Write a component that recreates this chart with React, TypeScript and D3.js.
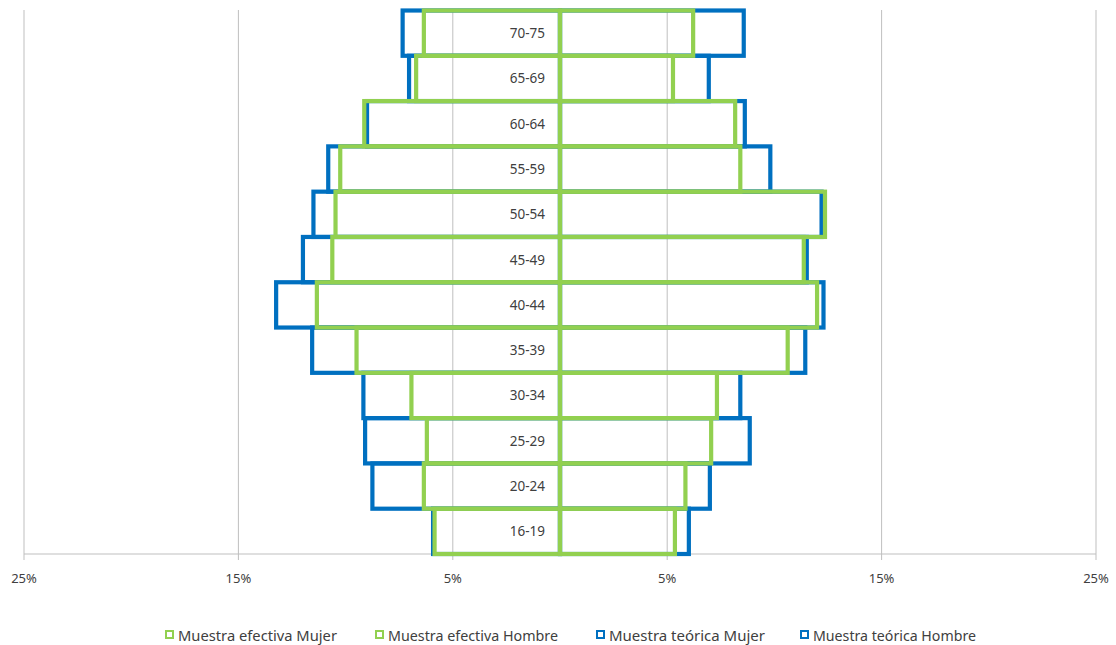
import React from 'react';
import * as d3 from 'd3';

const categories = ['16-19', '20-24', '25-29', '30-34', '35-39', '40-44', '45-49', '50-54', '55-59', '60-64', '65-69', '70-75'];
// percentages (Mujer plotted to the left)
const efectivaMujer = [5.85, 6.35, 6.21, 6.93, 9.49, 11.34, 10.62, 10.47, 10.25, 9.13, 6.71, 6.35];
const efectivaHombre = [5.36, 5.85, 7.05, 7.32, 10.62, 11.99, 11.37, 12.36, 8.41, 8.17, 5.27, 6.21];
const teoricaMujer = [5.92, 8.75, 9.09, 9.17, 11.56, 13.24, 11.99, 11.5, 10.81, 9.0, 7.04, 7.34];
const teoricaHombre = [6.01, 6.99, 8.85, 8.41, 11.44, 12.29, 11.51, 12.2, 9.81, 8.62, 6.94, 8.57];
const tickValues = [-25, -15, -5, 5, 15, 25];
const legendLabels = ['Muestra efectiva Mujer', 'Muestra efectiva Hombre', 'Muestra teórica Mujer', 'Muestra teórica Hombre'];

const GREEN = '#92D050';
const BLUE = '#0070C0';
const FONT = '"Noto Sans", "Open Sans", sans-serif';

export default function App() {
  const W = 1116, H = 645;
  const x = d3.scaleLinear().domain([-25, 25]).range([24, 1096]);
  const y = d3.scaleBand<string>().domain([...categories].reverse()).range([10.5, 554]).padding(0);
  const bw = y.bandwidth();

  const bars = (vals: number[], sign: number, color: string, key: string) =>
    vals.map((v, i) => {
      const x0 = x(0), x1 = x(sign * v);
      return (
        <rect key={key + i} x={Math.min(x0, x1)} y={y(categories[i])!} width={Math.abs(x1 - x0)} height={bw}
          fill="none" stroke={color} strokeWidth={4.2} />
      );
    });

  const legendX = [165, 375, 596, 800];
  const legendW = [159, 170, 156, 163];
  const legendColors = [GREEN, GREEN, BLUE, BLUE];

  return (
    <svg width={W} height={H} style={{ position: 'absolute', left: 0, top: 0, background: '#fff' }}>
      <rect x={0} y={0} width={W} height={H} fill="#fff" />
      {/* gridlines */}
      {tickValues.map(t => (
        <line key={'g' + t} x1={x(t)} x2={x(t)} y1={10} y2={560} stroke="#BFBFBF" strokeWidth={1} />
      ))}
      <line x1={x(-25)} x2={x(25)} y1={554} y2={554} stroke="#BFBFBF" strokeWidth={1} />
      {/* bars: teórica behind, efectiva on top */}
      {bars(teoricaMujer, -1, BLUE, 'tm')}
      {bars(teoricaHombre, 1, BLUE, 'th')}
      {bars(efectivaMujer, -1, GREEN, 'em')}
      {bars(efectivaHombre, 1, GREEN, 'eh')}
      {/* category labels */}
      {categories.map(c => (
        <text key={'c' + c} x={545} y={y(c)! + bw / 2} textAnchor="end" dominantBaseline="central"
          fontFamily={FONT} fontSize={13.5} fill="#404040">{c}</text>
      ))}
      {/* tick labels */}
      {tickValues.map(t => (
        <text key={'t' + t} x={x(t)} y={578} textAnchor="middle" dominantBaseline="central"
          fontFamily={FONT} fontSize={13} fill="#404040">{Math.abs(t) + '%'}</text>
      ))}
      {/* legend */}
      {legendLabels.map((l, i) => (
        <g key={'l' + i}>
          <rect x={legendX[i] + 1} y={631} width={7} height={7} fill="#fff" stroke={legendColors[i]} strokeWidth={2} />
          <text x={legendX[i] + 13} y={635} dominantBaseline="central" fontFamily={FONT} fontSize={14}
            textLength={legendW[i]} lengthAdjust="spacingAndGlyphs" fill="#404040">{l}</text>
        </g>
      ))}
    </svg>
  );
}
